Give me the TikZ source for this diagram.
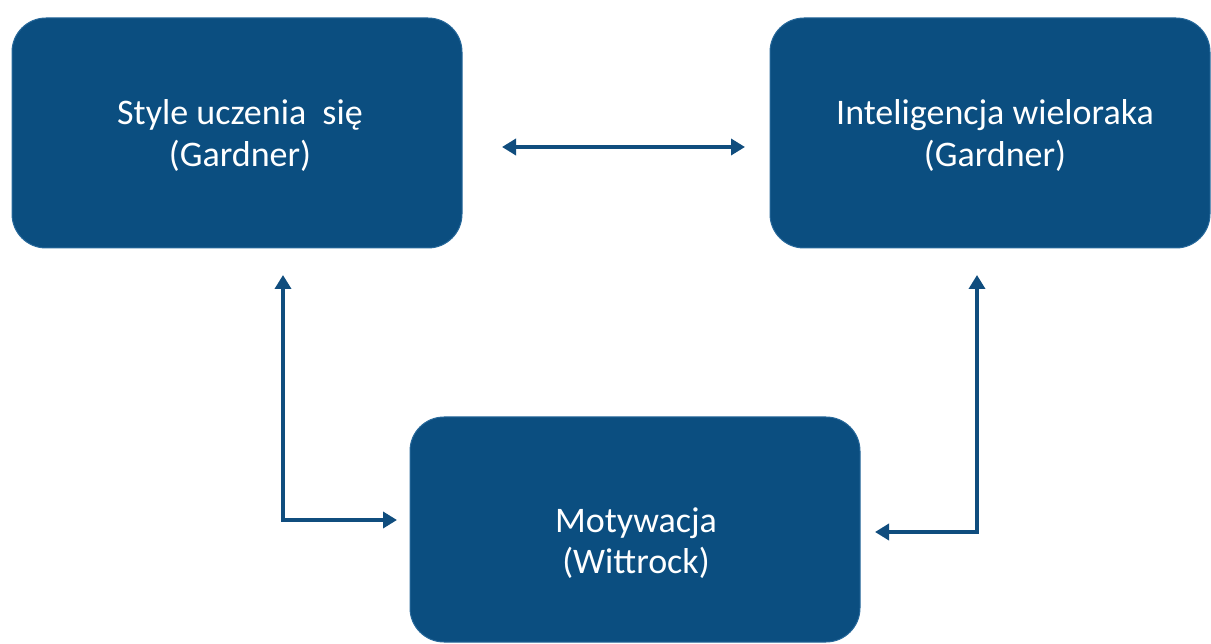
\documentclass[tikz,border=0pt]{standalone}
\usepackage{fontspec}
\setmainfont{Carlito}
\usetikzlibrary{arrows.meta}
\definecolor{boxblue}{RGB}{11,78,128}
\definecolor{boxedge}{RGB}{40,105,155}
\definecolor{arrowblue}{RGB}{16,77,126}
\begin{document}
\begin{tikzpicture}[x=1pt,y=-1pt,
  box/.style={draw=boxedge, line width=1pt, fill=boxblue, rounded corners=34pt, inner sep=0pt},
  lbl/.style={text=white, font=\fontsize{36}{43}\selectfont, anchor=base, inner sep=0pt},
  conn2/.style={draw=arrowblue, line width=4pt, line join=miter, arrows={Triangle[length=14pt,width=16pt]-Triangle[length=14pt,width=16pt]}}]
\useasboundingbox (0,0) rectangle (1211,644);
% boxes
\node[box, minimum width=450pt, minimum height=230pt] (L) at (237,133) {};
\node[box, minimum width=440pt, minimum height=230pt] (R) at (990,133) {};
\node[box, minimum width=450pt, minimum height=225pt] (M) at (635,529.5) {};
% labels
\node[lbl] (L1) at (240,125) {Style uczenia\ \ się};
\node[lbl] (L2) at (240,167) {(Gardner)};
\node[lbl] (R1) at (995,125) {Inteligencja wieloraka};
\node[lbl] (R2) at (995,167) {(Gardner)};
\node[lbl] (M1) at (636,532) {Motywacja};
\node[lbl] (M2) at (636,573) {(Wittrock)};
% connector end points
\coordinate (h1) at (502,147);
\coordinate (h2) at (745,147);
\coordinate (lu) at (283,275);
\coordinate (lm) at (397,520);
\coordinate (ru) at (977,275);
\coordinate (rm) at (875,532);
% connectors
\draw[conn2] (h1) -- (h2);
\draw[conn2] (lu) |- (lm);
\draw[conn2] (ru) |- (rm);
\end{tikzpicture}
\end{document}
